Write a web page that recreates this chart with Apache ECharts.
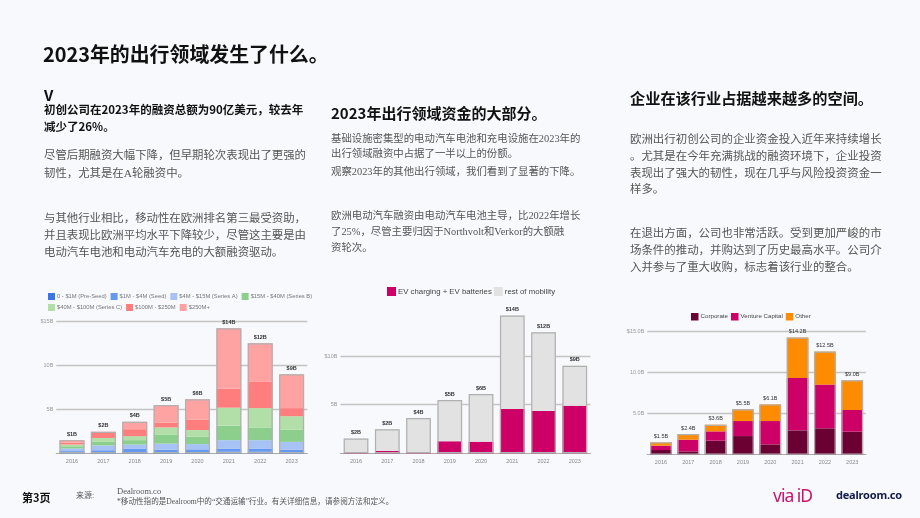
<!DOCTYPE html>
<html><head><meta charset="utf-8">
<script src="https://cdn.jsdelivr.net/npm/echarts@6/dist/echarts.min.js"></script>
<style>
html,body{margin:0;padding:0;background:#f8f9fd;}
#wrap{position:relative;width:920px;height:518px;overflow:hidden;background:#f8f9fd;font-family:"Noto Sans CJK SC","Noto Sans",sans-serif;}
#chart{position:absolute;left:0;top:0;width:920px;height:518px;}
.t{position:absolute;white-space:nowrap;color:#111;}
.h{font-weight:700;color:#111;}
.b{font-family:"Liberation Serif","Noto Sans CJK SC",serif;color:#555;}
</style></head>
<body><div id="wrap">
<div id="chart"></div>
<div class="t h" style="left:43px;top:41px;font-size:19.9px;line-height:26px;">2023年的出行领域发生了什么。</div>
<div class="t h" style="left:44px;top:86px;font-size:15px;line-height:18px;">V</div>
<div class="t h" style="left:44px;top:101px;font-size:11.5px;line-height:17px;">初创公司在2023年的融资总额为90亿美元，较去年<br>减少了26%。</div>
<div class="t b" style="left:44px;top:147px;font-size:11.4px;line-height:17.5px;">尽管后期融资大幅下降，但早期轮次表现出了更强的<br>韧性，尤其是在A轮融资中。</div>
<div class="t b" style="left:44px;top:210px;font-size:11.4px;line-height:17.2px;">与其他行业相比，移动性在欧洲排名第三最受资助，<br>并且表现比欧洲平均水平下降较少，尽管这主要是由<br>电动汽车电池和电动汽车充电的大额融资驱动。</div>
<div class="t h" style="left:331px;top:102px;font-size:15px;line-height:22px;">2023年出行领域资金的大部分。</div>
<div class="t b" style="left:331px;top:132px;font-size:10.4px;line-height:14.5px;">基础设施密集型的电动汽车电池和充电设施在2023年的<br>出行领域融资中占据了一半以上的份额。</div>
<div class="t b" style="left:331px;top:164px;font-size:10.4px;line-height:16px;">观察2023年的其他出行领域，我们看到了显著的下降。</div>
<div class="t b" style="left:331px;top:208px;font-size:10.4px;line-height:16px;">欧洲电动汽车融资由电动汽车电池主导，比2022年增长<br>了25%，尽管主要归因于Northvolt和Verkor的大额融<br>资轮次。</div>
<div class="t h" style="left:630px;top:86px;font-size:15.2px;line-height:22px;">企业在该行业占据越来越多的空间。</div>
<div class="t b" style="left:630px;top:131px;font-size:11.45px;line-height:16.8px;">欧洲出行初创公司的企业资金投入近年来持续增长<br>。尤其是在今年充满挑战的融资环境下，企业投资<br>表现出了强大的韧性，现在几乎与风险投资资金一<br>样多。</div>
<div class="t b" style="left:630px;top:225px;font-size:11.45px;line-height:17px;">在退出方面，公司也非常活跃。受到更加严峻的市<br>场条件的推动，并购达到了历史最高水平。公司介<br>入并参与了重大收购，标志着该行业的整合。</div>
<div class="t h" style="left:22px;top:489px;font-size:11px;line-height:16px;">第3页</div>
<div class="t b" style="left:76px;top:490px;font-size:8px;line-height:12px;color:#555;">来源:</div>
<div class="t b" style="left:117px;top:486px;font-size:8.5px;line-height:11px;color:#555;">Dealroom.co</div>
<div class="t b" style="left:117px;top:497px;font-size:7.6px;line-height:10px;color:#555;">*移动性指的是Dealroom中的“交通运输”行业。有关详细信息，请参阅方法和定义。</div>
<div class="t" style="left:773px;top:484px;font-size:17.5px;line-height:22px;color:#c8146e;font-family:'Noto Sans',sans-serif;letter-spacing:-1px;">via iD</div>
<div class="t" style="left:836px;top:487px;font-size:11px;line-height:16px;color:#141a4a;font-weight:700;font-family:'Noto Sans',sans-serif;letter-spacing:-0.2px;">dealroom.co</div>
</div>
<script>
// ---------- shared ----------
const years = ['2016','2017','2018','2019','2020','2021','2022','2023'];

// ---------- chart 1: funding by round size ($B) ----------
const roundNames = ['0 - $1M (Pre-Seed)','$1M - $4M (Seed)','$4M - $15M (Series A)','$15M - $40M (Series B)','$40M - $100M (Series C)','$100M - $250M','$250M+'];
const preSeed  = [0.10,0.15,0.15,0.15,0.15,0.20,0.20,0.15];
const seedR    = [0.15,0.20,0.35,0.25,0.30,0.30,0.30,0.25];
const seriesA  = [0.30,0.55,0.50,0.70,0.60,1.00,1.00,0.90];
const seriesB  = [0.25,0.40,0.50,1.00,0.85,1.65,1.45,1.37];
const seriesC  = [0.20,0.45,0.45,0.85,0.75,2.05,2.20,1.56];
const r100_250 = [0.20,0.70,0.80,0.55,1.20,2.15,3.05,0.92];
const r250plus = [0.30,0.00,0.85,2.00,2.30,6.90,4.35,3.85];
const labels1  = ['$1B','$2B','$4B','$5B','$6B','$14B','$12B','$9B'];
const yTicks1  = ['','5B','10B','$15B'];

// ---------- chart 2: EV vs rest of mobility ($B) ----------
const evNames  = ['EV charging + EV batteries','rest of mobility'];
const evValues = [0.05,0.24,0.10,1.24,1.20,4.55,4.34,4.90];
const restMob  = [1.47,2.24,3.52,4.24,4.90,9.62,8.11,4.10];
const labels2  = ['$2B','$2B','$4B','$5B','$6B','$14B','$12B','$9B'];
const yTicks2  = ['','5B','$10B',''];

// ---------- chart 3: investor type ($B) ----------
const invNames  = ['Corporate','Venture Capital','Other'];
const corporate = [0.57,0.40,1.70,2.26,1.25,2.95,3.20,2.80];
const ventureC  = [0.52,1.42,1.13,1.82,2.83,6.35,5.30,2.62];
const otherInv  = [0.41,0.68,0.81,1.42,2.02,4.90,4.00,3.60];
const labels3   = ['$1.5B','$2.4B','$3.6B','$5.5B','$6.1B','$14.2B','$12.5B','$9.0B'];
const yTicks3   = ['','5.0B','10.0B','$15.0B'];

const sumArr = (...arrs) => arrs[0].map((_, i) => arrs.reduce((s, a) => s + a[i], 0));

const colors1 = ['#3a76e6','#6598ef','#a7c3f6','#8ccf8c','#b2dfa8','#ff7d7d','#ffa2a2'];
const data1 = [preSeed, seedR, seriesA, seriesB, seriesC, r100_250, r250plus];
const tot1 = sumArr(...data1);
const tot2 = sumArr(evValues, restMob);
const tot3 = sumArr(corporate, ventureC, otherInv);

function xAxis(gi){
  return {type:'category', gridIndex:gi, data:years,
    axisLine:{show:true,lineStyle:{color:'#aaa',width:1.2}}, axisTick:{show:false},
    axisLabel:{fontSize:5.5,color:'#888',margin:5}};
}
function yAxis(gi, ticks, showMax){
  return {type:'value', gridIndex:gi, min:0, max:15, interval:5,
    axisLine:{show:false}, axisTick:{show:false},
    axisLabel:{fontSize:5.5,color:'#999',margin:3,formatter:v=>ticks[Math.round(v/5)]},
    splitLine:{show:true,showMinLine:false,showMaxLine:showMax,lineStyle:{color:'#c4c4c4',width:1.3}}};
}
function totalSeries(gi, totals, labels, bw, bold){
  return {type:'bar', name:'total'+gi, xAxisIndex:gi, yAxisIndex:gi, data:totals, barWidth:bw, barGap:'-100%', z:5,
    itemStyle:{color:'rgba(0,0,0,0)',borderColor:'#b0b0b0',borderWidth:1.2}, silent:true,
    label:{show:true,position:'top',distance:3,fontSize:5.5,color:'#333',fontWeight:bold?'bold':'normal',formatter:p=>labels[p.dataIndex]}};
}

const series = [];
data1.forEach((d,i)=>series.push({type:'bar',name:roundNames[i],stack:'s1',xAxisIndex:0,yAxisIndex:0,data:d,barWidth:25,itemStyle:{color:colors1[i]}}));
series.push(totalSeries(0, tot1, labels1, 25, true));
series.push({type:'bar',name:evNames[0],stack:'s2',xAxisIndex:1,yAxisIndex:1,data:evValues,barWidth:24.7,itemStyle:{color:'#cc0066'}});
series.push({type:'bar',name:evNames[1],stack:'s2',xAxisIndex:1,yAxisIndex:1,data:restMob,barWidth:24.7,itemStyle:{color:'#e2e2e2'}});
series.push(totalSeries(1, tot2, labels2, 24.7, true));
const colors3 = ['#6b0032','#cc0066','#ff8c00'];
[corporate, ventureC, otherInv].forEach((d,i)=>series.push({type:'bar',name:invNames[i],stack:'s3',xAxisIndex:2,yAxisIndex:2,data:d,barWidth:21.7,itemStyle:{color:colors3[i]}}));
series.push(totalSeries(2, tot3, labels3, 21.7, false));

const chart = echarts.init(document.getElementById('chart'), null, {renderer:'canvas'});
chart.setOption({
  backgroundColor:'transparent',
  animation:false,
  legend:[
    {data:roundNames, left:43, top:288, width:265, itemWidth:7, itemHeight:7, itemGap:4, icon:'rect',
     textStyle:{fontSize:5.8,color:'#777',padding:[0,0,0,-3]}, selectedMode:false},
    {data:evNames, left:382, top:282, itemWidth:9, itemHeight:9, itemGap:2, icon:'rect',
     textStyle:{fontSize:7.8,color:'#444',padding:[0,0,0,-3]}, selectedMode:false},
    {data:invNames, left:686, top:308, itemWidth:7.5, itemHeight:7.5, itemGap:3, icon:'rect',
     textStyle:{fontSize:6.2,color:'#444',padding:[0,0,0,-3]}, selectedMode:false}
  ],
  grid:[
    {left:56.3, top:321.7, width:251, height:131.6},
    {left:340.4, top:307.5, width:250, height:145.8},
    {left:647.3, top:331, width:218.6, height:123.7}
  ],
  xAxis:[xAxis(0), xAxis(1), xAxis(2)],
  yAxis:[yAxis(0,yTicks1,true), yAxis(1,yTicks2,false), yAxis(2,yTicks3,true)],
  series:series
});
</script>
</body></html>
